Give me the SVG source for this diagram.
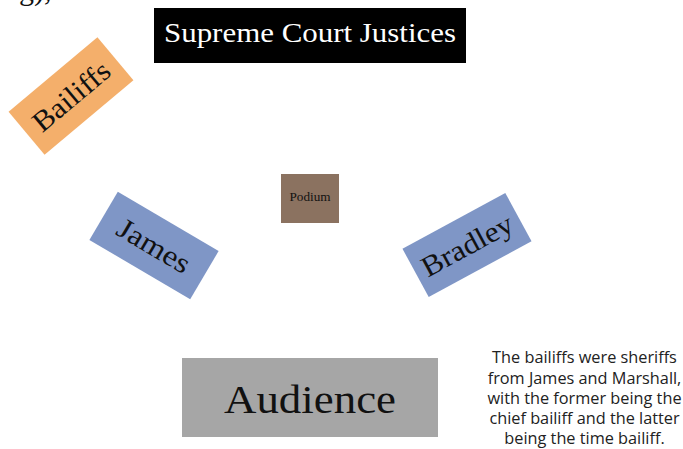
<svg xmlns="http://www.w3.org/2000/svg" width="683" height="449" viewBox="0 0 683 449">
<style>
.serif{font-family:"Liberation Serif","DejaVu Serif",serif;fill:#111;text-anchor:middle}
.note{font-family:"Open Sans","Noto Sans",sans-serif;font-size:16.3px;fill:#222;text-anchor:middle}
</style>
<rect width="683" height="449" fill="#fff"/>
<text class="serif" x="4" y="0" font-size="30" style="text-anchor:start">ng),</text>
<g id="title">
<rect x="154" y="8" width="312" height="55" fill="#000"/>
<text class="serif" x="310" y="42" font-size="27" style="fill:#fff" textLength="292" lengthAdjust="spacingAndGlyphs">Supreme Court Justices</text>
</g>
<g id="bailiffs" transform="translate(71,96) rotate(-40)">
<rect x="-58" y="-28" width="116" height="56" fill="#F4AF6B"/>
<text class="serif" x="0" y="10" font-size="29" textLength="92" lengthAdjust="spacingAndGlyphs">Bailiffs</text>
</g>
<g id="podium">
<rect x="281" y="174" width="58" height="49" fill="#8B7260"/>
<text class="serif" x="310" y="201" font-size="11.5" textLength="41" lengthAdjust="spacingAndGlyphs">Podium</text>
</g>
<g id="james" transform="translate(154,245.5) rotate(30.5)">
<rect x="-58.5" y="-28" width="117" height="56" fill="#7F96C6"/>
<text class="serif" x="0" y="10" font-size="29" textLength="80" lengthAdjust="spacingAndGlyphs">James</text>
</g>
<g id="bradley" transform="translate(467,245) rotate(-28.5)">
<rect x="-58.5" y="-27.5" width="117" height="55" fill="#7F96C6"/>
<text class="serif" x="0" y="10" font-size="29" textLength="100" lengthAdjust="spacingAndGlyphs">Bradley</text>
</g>
<g id="audience">
<rect x="182" y="358" width="256" height="79" fill="#A6A6A6"/>
<text class="serif" x="310" y="413" font-size="40" textLength="172" lengthAdjust="spacingAndGlyphs">Audience</text>
</g>
<g id="note">
<text class="note" x="584.5" y="363">The bailiffs were sheriffs</text>
<text class="note" x="584.5" y="383.5">from James and Marshall,</text>
<text class="note" x="584.5" y="404">with the former being the</text>
<text class="note" x="584.5" y="424">chief bailiff and the latter</text>
<text class="note" x="584.5" y="444">being the time bailiff.</text>
</g>
<g id="connectors"></g>
</svg>
